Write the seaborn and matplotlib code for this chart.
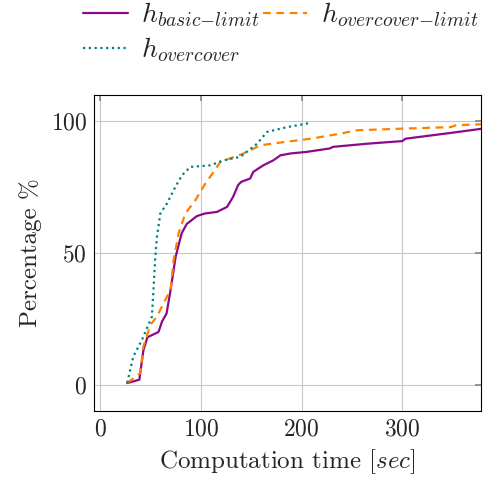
import matplotlib
matplotlib.use("Agg")
import matplotlib.pyplot as plt
import seaborn as sns
import pandas as pd

# ---- data ----
basic_x = [27, 39, 43, 47, 58, 61.5, 66, 70, 75, 81, 86, 96, 104, 116, 126, 132, 137, 140,
           149, 152, 162, 172, 179, 189, 205, 228, 231, 265, 300, 303, 348, 379]
basic_y = [0.6, 1.9, 13, 18, 20, 24, 27, 36, 48.6, 57.5, 61, 64, 65, 65.6, 67.5, 71.3, 75.8, 77,
           78.3, 80.8, 83.3, 85.2, 87.1, 87.8, 88.4, 89.7, 90.3, 91.5, 92.5, 93.4, 95.6, 97.2]

overlim_x = [27, 40, 43, 50, 56.5, 64.7, 70, 73, 78, 84.6, 94.5, 104.5, 112.7, 119.4, 126,
             142.5, 159, 176, 209, 238, 255, 298, 348, 353, 379]
overlim_y = [0.7, 4.4, 14.5, 22.7, 25.9, 32.2, 36, 47.3, 57.5, 65, 70, 76.4, 80.8, 84.6, 85.5,
             87.8, 90.9, 91.8, 93.4, 95.3, 96.6, 97.2, 97.8, 98.5, 98.9]

over_x = [27, 33, 41.6, 51.5, 53, 54.8, 56.5, 59.8, 66.4, 74.7, 81.3, 89.6, 109.4, 122.6,
          139.2, 155.8, 165.7, 185.6, 208.7]
over_y = [0.7, 10.7, 17, 25.9, 36, 48.6, 56.2, 65, 68.8, 75.1, 79.5, 82.7, 83.3, 85.2,
          86.5, 91.5, 96, 97.8, 99.4]

labels = [r"$h_{basic{-}limit}$", r"$h_{overcover{-}limit}$", r"$h_{overcover}$"]
xticks = [0, 100, 200, 300]
yticks = [0, 50, 100]

sns.set_theme(style="white")
plt.rcParams["font.family"] = ["cmr10", "DejaVu Serif"]
plt.rcParams["mathtext.fontset"] = "cm"
plt.rcParams["axes.formatter.use_mathtext"] = True

fig = plt.figure(figsize=(4.88, 4.80), dpi=100)
ax = fig.add_axes([94 / 488, 1 - 411 / 480, (481 - 94) / 488, (411 - 95) / 480])

series = [
    (basic_x, basic_y, "#8b0a8b", "-"),
    (overlim_x, overlim_y, "#ff8000", (0, (3.5, 2.5))),
    (over_x, over_y, "#008080", (0, (1, 1.6))),
]
for (xs, ys, col, ls), lab in zip(series, labels):
    df = pd.DataFrame({"t": xs, "p": ys})
    sns.lineplot(data=df, x="t", y="p", ax=ax, color=col, linestyle=ls, lw=1.6,
                 sort=False, estimator=None, label=lab)

ax.set_xlim(-6, 378)
ax.set_ylim(-10, 110)
ax.set_xticks(xticks)
ax.set_yticks(yticks)
ax.grid(True, color="#c8c8c8", lw=0.8)
ax.tick_params(direction="in", top=True, right=True, length=4, color="#888888",
               labelsize=17, pad=5)
for s in ax.spines.values():
    s.set_color("black")
    s.set_linewidth(0.8)
ax.set_xlabel(r"Computation time [$sec$]", fontsize=18, labelpad=5)
ax.set_ylabel("Percentage %", fontsize=18, labelpad=6)

ax.legend_.remove()
h, l = ax.get_legend_handles_labels()
order = [0, 2, 1]
fig.legend([h[i] for i in order], [l[i] for i in order], ncol=2, loc="upper left",
           bbox_to_anchor=(0.119, 1.051), frameon=False,
           fontsize=20, handlelength=1.6, handletextpad=0.5, columnspacing=0.1,
           labelspacing=0.22)

fig.savefig("out.png", dpi=100)
